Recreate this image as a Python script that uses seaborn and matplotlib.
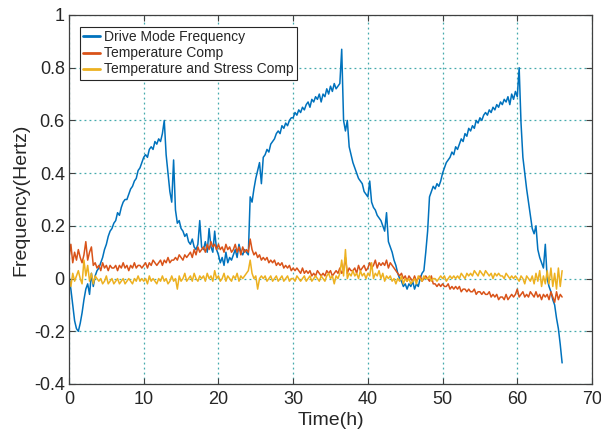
import numpy as np
import pandas as pd
import matplotlib
matplotlib.use("Agg")
import matplotlib.pyplot as plt
import seaborn as sns

# sampling times (h), one sample every 0.25 h from 0 to 66 h
time_h = [round(0.25 * i, 2) for i in range(265)]

drive_mode = [
    0.01, -0.04, -0.10, -0.16, -0.19, -0.20, -0.17, -0.13,
    -0.08, -0.04, -0.02, -0.06, 0.02, -0.03, 0.01, 0.03,
    0.04, 0.06, 0.08, 0.11, 0.13, 0.16, 0.18, 0.19,
    0.21, 0.22, 0.25, 0.24, 0.27, 0.29, 0.30, 0.30,
    0.32, 0.34, 0.35, 0.37, 0.38, 0.41, 0.42, 0.44,
    0.46, 0.47, 0.46, 0.49, 0.50, 0.49, 0.52, 0.51,
    0.53, 0.52, 0.55, 0.60, 0.47, 0.40, 0.33, 0.29,
    0.45, 0.26, 0.21, 0.22, 0.19, 0.18, 0.16, 0.17,
    0.14, 0.13, 0.15, 0.12, 0.11, 0.13, 0.22, 0.12,
    0.11, 0.14, 0.10, 0.19, 0.12, 0.10, 0.18, 0.11,
    0.09, 0.06, 0.08, 0.05, 0.10, 0.06, 0.08, 0.07,
    0.09, 0.11, 0.08, 0.13, 0.10, 0.09, 0.11, 0.10,
    0.09, 0.31, 0.29, 0.34, 0.38, 0.41, 0.44, 0.36,
    0.46, 0.47, 0.49, 0.48, 0.51, 0.52, 0.53, 0.55,
    0.56, 0.55, 0.58, 0.57, 0.59, 0.58, 0.60, 0.61,
    0.61, 0.63, 0.62, 0.64, 0.63, 0.65, 0.64, 0.66,
    0.67, 0.65, 0.68, 0.67, 0.69, 0.68, 0.70, 0.67,
    0.70, 0.69, 0.72, 0.70, 0.73, 0.71, 0.74, 0.72,
    0.73, 0.74, 0.87, 0.60, 0.56, 0.60, 0.50, 0.47,
    0.44, 0.42, 0.40, 0.38, 0.37, 0.36, 0.33, 0.32,
    0.31, 0.37, 0.29, 0.27, 0.26, 0.24, 0.23, 0.22,
    0.20, 0.18, 0.25, 0.14, 0.12, 0.10, 0.07, 0.05,
    0.02, 0.00, -0.01, -0.03, -0.02, -0.04, -0.02, -0.03,
    -0.01, -0.04, -0.02, -0.03, 0.00, 0.02, 0.03, 0.10,
    0.18, 0.31, 0.33, 0.35, 0.34, 0.36, 0.35, 0.37,
    0.40, 0.42, 0.44, 0.45, 0.46, 0.48, 0.47, 0.50,
    0.49, 0.51, 0.53, 0.52, 0.55, 0.54, 0.57, 0.56,
    0.58, 0.57, 0.60, 0.59, 0.61, 0.60, 0.62, 0.63,
    0.62, 0.64, 0.63, 0.65, 0.64, 0.66, 0.65, 0.67,
    0.66, 0.68, 0.67, 0.69, 0.66, 0.70, 0.68, 0.71,
    0.69, 0.80, 0.59, 0.46, 0.40, 0.34, 0.29, 0.24,
    0.19, 0.17, 0.20, 0.11, 0.08, 0.06, 0.04, 0.13,
    0.00, -0.03, -0.05, -0.08, -0.10, -0.15, -0.19, -0.25,
    -0.32,
]

temp_comp = [
    0.08, 0.13, 0.06, 0.10, 0.07, 0.11, 0.08, 0.06,
    0.09, 0.14, 0.07, 0.10, 0.12, 0.05, 0.06, 0.04,
    0.05, 0.03, 0.06, 0.04, 0.05, 0.03, 0.05, 0.04,
    0.04, 0.05, 0.03, 0.05, 0.04, 0.06, 0.04, 0.05,
    0.03, 0.05, 0.04, 0.06, 0.04, 0.05, 0.05, 0.04,
    0.05, 0.06, 0.04, 0.06, 0.05, 0.07, 0.06, 0.05,
    0.06, 0.07, 0.05, 0.07, 0.06, 0.08, 0.06, 0.07,
    0.07, 0.08, 0.07, 0.09, 0.08, 0.07, 0.09, 0.08,
    0.09, 0.10, 0.08, 0.11, 0.09, 0.12, 0.10, 0.11,
    0.12, 0.10, 0.13, 0.11, 0.14, 0.12, 0.13, 0.11,
    0.13, 0.11, 0.12, 0.10, 0.13, 0.11, 0.12, 0.10,
    0.11, 0.13, 0.10, 0.12, 0.09, 0.12, 0.10, 0.11,
    0.10, 0.15, 0.11, 0.09, 0.10, 0.08, 0.09, 0.07,
    0.08, 0.07, 0.08, 0.06, 0.07, 0.06, 0.07, 0.05,
    0.06, 0.05, 0.06, 0.04, 0.05, 0.04, 0.05, 0.03,
    0.04, 0.03, 0.04, 0.03, 0.02, 0.04, 0.02, 0.03,
    0.02, 0.03, 0.01, 0.02, 0.01, 0.03, 0.02, 0.01,
    0.02, 0.01, 0.03, 0.02, 0.03, 0.01, 0.02, 0.03,
    0.02, 0.04, 0.02, 0.03, 0.08, 0.02, 0.04, 0.03,
    0.03, 0.04, 0.02, 0.05, 0.03, 0.04, 0.05, 0.03,
    0.04, 0.06, 0.04, 0.05, 0.07, 0.04, 0.06, 0.05,
    0.06, 0.05, 0.07, 0.04, 0.06, 0.05, 0.04, 0.03,
    0.02, 0.01, 0.02, 0.00, 0.01, -0.01, 0.01, 0.00,
    -0.01, 0.01, -0.01, 0.00, 0.01, -0.01, 0.00, 0.01,
    0.00, -0.01, 0.01, -0.02, -0.02, -0.03, -0.02, -0.03,
    -0.02, -0.03, -0.03, -0.02, -0.04, -0.03, -0.04, -0.03,
    -0.04, -0.03, -0.05, -0.04, -0.04, -0.05, -0.04, -0.05,
    -0.05, -0.04, -0.06, -0.05, -0.05, -0.06, -0.05, -0.06,
    -0.06, -0.05, -0.07, -0.06, -0.07, -0.06, -0.08, -0.07,
    -0.07, -0.08, -0.06, -0.08, -0.07, -0.06, -0.07, -0.06,
    -0.04, -0.07, -0.06, -0.05, -0.07, -0.06, -0.07, -0.05,
    -0.06, -0.07, -0.05, -0.07, -0.06, -0.08, -0.06, -0.07,
    -0.06, -0.08, -0.05, -0.07, -0.09, -0.05, -0.08, -0.06,
    -0.07,
]

temp_stress_comp = [
    0.00, -0.03, 0.02, -0.01, 0.01, 0.03, 0.00, -0.02,
    0.07, 0.01, 0.05, -0.01, 0.02, -0.02, 0.01, 0.00,
    -0.01, 0.00, -0.02, -0.01, 0.01, -0.02, -0.01, 0.00,
    -0.02, -0.01, 0.00, -0.02, -0.01, 0.00, -0.02, -0.01,
    0.00, -0.01, -0.02, 0.00, -0.01, 0.01, -0.01, 0.00,
    -0.01, 0.00, -0.02, 0.01, -0.01, 0.00, -0.01, -0.02,
    0.00, -0.01, 0.01, -0.01, 0.00, -0.02, -0.01, 0.01,
    -0.01, 0.00, -0.04, 0.01, -0.01, 0.00, 0.02, -0.01,
    0.00, 0.01, -0.01, 0.02, 0.00, -0.01, 0.01, 0.00,
    0.01, -0.01, 0.02, 0.00, 0.01, -0.01, 0.03, 0.00,
    0.01, -0.01, 0.00, 0.02, -0.01, 0.01, 0.00, -0.01,
    0.01, 0.00, 0.02, -0.01, 0.01, 0.00, 0.01, 0.02,
    0.03, 0.07, 0.02, 0.00, 0.01, -0.04, 0.00, 0.01,
    0.00, 0.01, -0.01, 0.00, 0.01, -0.01, 0.00, 0.01,
    -0.01, 0.00, 0.01, -0.01, 0.00, 0.01, -0.01, 0.00,
    0.00, -0.01, 0.01, 0.00, -0.01, 0.00, 0.01, -0.01,
    0.00, 0.01, -0.01, 0.00, 0.01, 0.00, -0.01, 0.01,
    0.00, -0.01, 0.01, 0.02, 0.00, 0.01, -0.02, 0.01,
    0.00, 0.02, 0.07, 0.01, 0.11, 0.00, 0.02, 0.01,
    0.03, 0.01, 0.02, 0.00, 0.03, 0.01, 0.02, 0.00,
    0.02, 0.01, 0.06, 0.00, 0.02, 0.01, 0.03, 0.00,
    0.02, -0.01, 0.01, 0.00, 0.01, -0.01, 0.00, -0.02,
    0.00, -0.01, 0.01, -0.02, 0.00, -0.01, 0.00, -0.02,
    -0.01, 0.00, -0.02, 0.01, 0.00, -0.01, 0.01, 0.00,
    0.00, 0.01, -0.01, 0.00, 0.00, -0.01, 0.00, 0.01,
    0.00, 0.01, -0.01, 0.00, 0.01, 0.00, 0.01, 0.00,
    0.01, 0.00, 0.02, 0.01, 0.00, 0.02, 0.01, 0.02,
    0.01, 0.03, 0.02, 0.01, 0.03, 0.02, 0.01, 0.03,
    0.02, 0.01, 0.02, 0.00, 0.02, 0.01, 0.02, 0.01,
    0.01, 0.00, 0.02, 0.01, 0.00, 0.01, 0.00, 0.01,
    0.00, -0.01, 0.01, 0.00, -0.02, 0.01, 0.00, -0.01,
    0.01, -0.02, 0.02, -0.01, 0.03, -0.03, 0.01, -0.02,
    0.03, -0.02, 0.04, -0.03, 0.02, -0.04, 0.04, -0.03,
    0.03,
]

series_names = ["Drive Mode Frequency", "Temperature Comp",
                "Temperature and Stress Comp"]
series_colors = ["#0072BD", "#D95319", "#EDB120"]
x_ticks = [0, 10, 20, 30, 40, 50, 60, 70]
y_ticks = [-0.4, -0.2, 0, 0.2, 0.4, 0.6, 0.8, 1]
y_tick_labels = ["-0.4", "-0.2", "0", "0.2", "0.4", "0.6", "0.8", "1"]

frames = []
for name, vals in zip(series_names, [drive_mode, temp_comp, temp_stress_comp]):
    frames.append(pd.DataFrame({"Time": time_h, "Value": vals, "Series": name}))
df = pd.concat(frames, ignore_index=True)

sns.set_style("white")
plt.rcParams["font.family"] = ["Liberation Sans", "DejaVu Sans"]

fig = plt.figure(figsize=(6.01, 4.38), dpi=100)
ax = fig.add_axes([69 / 601, 1 - 384 / 438, 523 / 601, 369 / 438])

sns.lineplot(data=df, x="Time", y="Value", hue="Series",
             hue_order=series_names, palette=series_colors,
             estimator=None, sort=False, linewidth=1.1, ax=ax)

ax.set_xlim(0, 70)
ax.set_ylim(-0.4, 1)
ax.set_xticks(x_ticks)
ax.set_yticks(y_ticks)
ax.set_yticklabels(y_tick_labels)
ax.tick_params(direction="in", length=4, width=0.8, color="#404040",
               labelcolor="#262626", labelsize=13, pad=3,
               top=True, right=True, bottom=True, left=True,
               labeltop=False, labelright=False)
ax.tick_params(axis="x", pad=5)
ax.grid(True, linestyle=(0, (1.5, 2.5)), color="#45aaad", linewidth=0.9)
ax.set_axisbelow(True)
for sp in ax.spines.values():
    sp.set_color("#404040")
    sp.set_linewidth(0.9)
    sp.set_visible(True)

ax.set_xlabel("Time(h)", fontsize=14, color="#262626", labelpad=3)
ax.set_ylabel("Frequency(Hertz)", fontsize=14, color="#262626", labelpad=3)

leg = ax.legend(loc="upper left", bbox_to_anchor=(0.021, 0.968),
                borderaxespad=0, fontsize=10, handlelength=1.2,
                handletextpad=0.25, labelspacing=0.15, borderpad=0.25,
                fancybox=False, framealpha=1, edgecolor="#262626")
leg.get_frame().set_linewidth(0.8)
for line in leg.get_lines():
    line.set_linewidth(2)

fig.savefig("out.png", dpi=100)
